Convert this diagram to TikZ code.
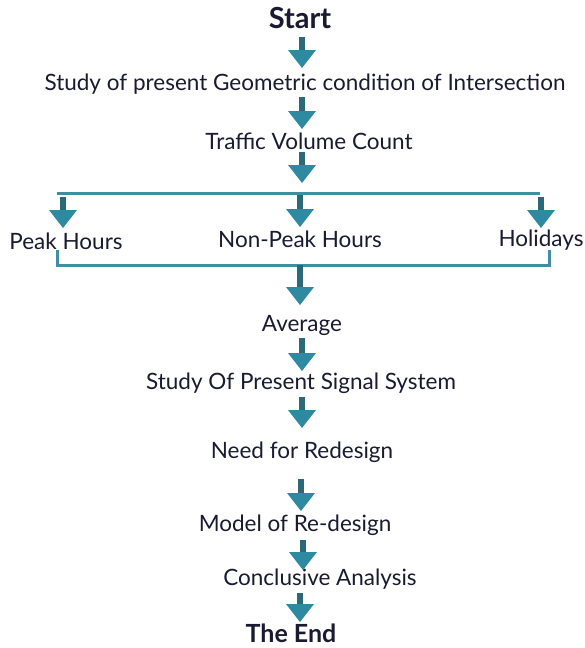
\documentclass[tikz,border=0pt]{standalone}
\usepackage{fontspec}
\setmainfont{Lato}
\usetikzlibrary{arrows.meta}
\definecolor{shaft}{HTML}{2B6879}
\definecolor{head}{HTML}{2E8AA0}
\definecolor{brk}{HTML}{3F8FA2}
\definecolor{txt}{HTML}{1A1A33}
\tikzset{
  lbl/.style={inner sep=0pt, text=txt, font=\fontsize{22.5}{26}\selectfont},
  ttl/.style={inner sep=0pt, text=txt, font=\fontsize{29}{33}\selectfont\bfseries},
  arr/.style={draw=shaft, line width=6pt, -{Triangle[width=28pt,length=18pt,color=head,fill=head,line width=0pt]}},
  brline/.style={draw=brk, line width=3pt}
}
\begin{document}
\begin{tikzpicture}[x=1pt,y=-1pt]
\useasboundingbox (0,0) rectangle (585,648);
\node[ttl] (start) at (300,18) {Start};
\node[lbl] (geo) at (305,84) {Study of present Geometric condition of Intersection};
\node[lbl] (tvc) at (309,141) {Traffic Volume Count};
\node[lbl] (peak) at (66,241) {Peak Hours};
\node[lbl] (nonpeak) at (300,239) {Non-Peak Hours};
\node[lbl] (hol) at (541,240) {Holidays};
\node[lbl] (avg) at (302,325) {Average};
\node[lbl] (sig) at (301,383) {Study Of Present Signal System};
\node[lbl] (need) at (302,452) {Need for Redesign};
\node[lbl] (model) at (295,525) {Model of Re-design};
\node[lbl] (concl) at (320,579) {Conclusive Analysis};
\node[ttl, font=\fontsize{25}{29}\selectfont\bfseries] (theend) at (291,633) {The End};
% coordinates
\coordinate (a1s) at (302,37); \coordinate (a1e) at (302,68);
\coordinate (a2s) at (302,97); \coordinate (a2e) at (302,129);
\coordinate (a3s) at (302,152); \coordinate (a3e) at (302,183);
\coordinate (hl) at (57,193); \coordinate (hr) at (540,193);
\coordinate (b1s) at (63,197); \coordinate (b1e) at (63,228);
\coordinate (b2s) at (300,195); \coordinate (b2e) at (300,227);
\coordinate (b3s) at (541,197); \coordinate (b3e) at (541,228);
\coordinate (bl) at (57,250); \coordinate (br) at (549,250);
\coordinate (bm) at (300,265);
\coordinate (a4e) at (300,305);
\coordinate (a5s) at (302,338); \coordinate (a5e) at (302,371);
\coordinate (a6s) at (302,397); \coordinate (a6e) at (302,428);
\coordinate (a7s) at (301,479); \coordinate (a7e) at (301,511);
\coordinate (a8s) at (303,540); \coordinate (a8e) at (303,570);
\coordinate (a9s) at (300,593); \coordinate (a9e) at (300,622);
\draw[arr] (a1s) -- (a1e);
\draw[arr] (a2s) -- (a2e);
\draw[arr] (a3s) -- (a3e);
\draw[brline] (hl) -- (hr);
\draw[arr] (b1s) -- (b1e);
\draw[arr] (b2s) -- (b2e);
\draw[arr] (b3s) -- (b3e);
\draw[brline] (bl) |- (bm) -| (br);
\draw[arr] (bm) -- (a4e);
\draw[arr] (a5s) -- (a5e);
\draw[arr] (a6s) -- (a6e);
\draw[arr] (a7s) -- (a7e);
\draw[arr] (a8s) -- (a8e);
\draw[arr] (a9s) -- (a9e);
\end{tikzpicture}
\end{document}
